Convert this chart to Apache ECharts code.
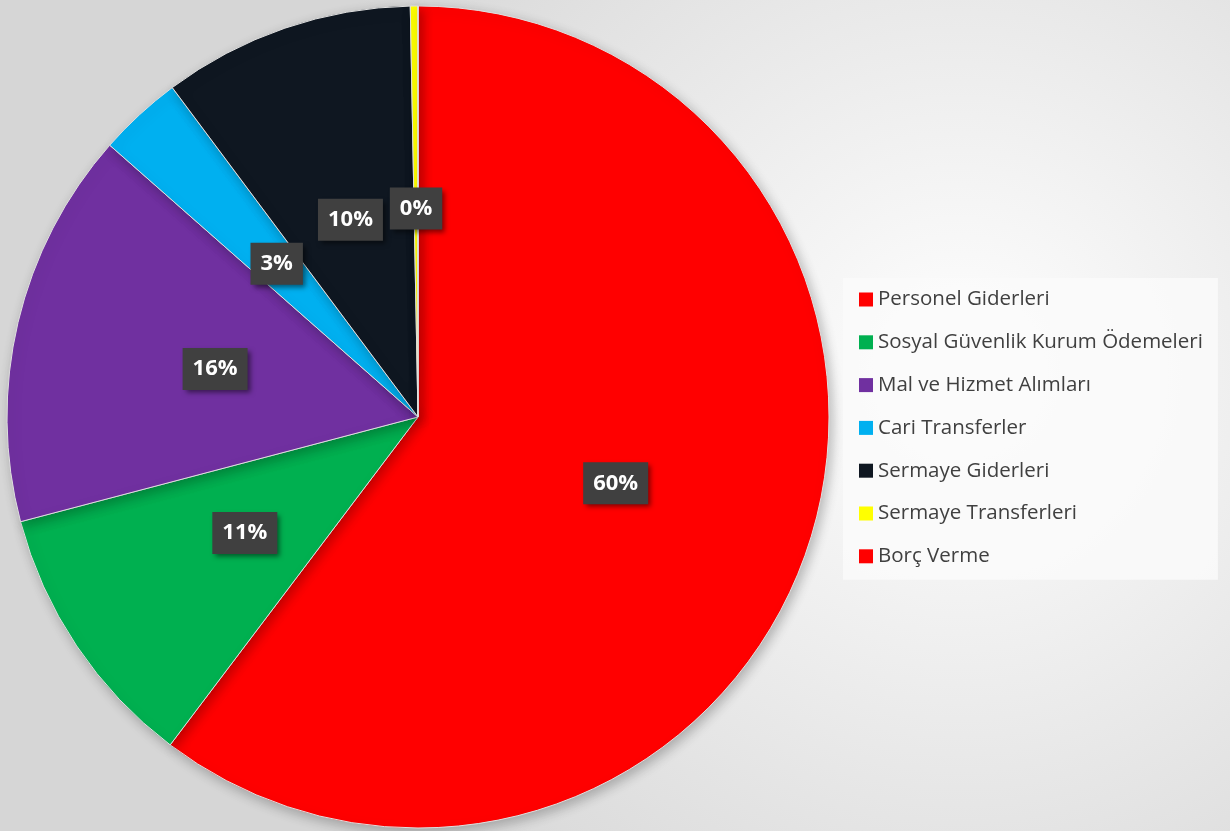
<!DOCTYPE html>
<html>
<head>
<meta charset="utf-8">
<script src="https://cdn.jsdelivr.net/npm/echarts@6/dist/echarts.min.js"></script>
<style>
  html, body { margin: 0; padding: 0; }
  #chart { width: 1230px; height: 831px; }
</style>
</head>
<body>
<div id="chart"></div>
<script>
// kalemler ve payları (%)
var categories = ["Personel Giderleri", "Sosyal Güvenlik Kurum Ödemeleri", "Mal ve Hizmet Alımları",
  "Cari Transferler", "Sermaye Giderleri", "Sermaye Transferleri", "Borç Verme"];
var values = [60.3, 10.6, 15.6, 3.3, 9.9, 0.3, 0];
var colors = ["#ff0000", "#00b050", "#7030a0", "#00b0f0", "#0f1721", "#ffff00", "#ff0000"];

var chartObj = echarts.init(document.getElementById("chart"));

var pieData = categories.map(function (name, i) {
  var item = { name: name, value: values[i], itemStyle: { color: colors[i] } };
  if (values[i] === 0) item.label = { show: false }; // sıfır dilim etiketsiz
  return item;
});

var option = {
  backgroundColor: {
    type: "radial", x: 0.78, y: 0.45, r: 0.85,
    colorStops: [{ offset: 0, color: "#ffffff" }, { offset: 1, color: "#d6d6d6" }]
  },
  animation: false,
  legend: {
    orient: "vertical",
    left: 843,
    top: 278,
    padding: [11, 15, 13, 16],
    backgroundColor: "rgba(250,250,250,0.85)",
    icon: "rect",
    itemWidth: 14,
    itemHeight: 14,
    itemGap: 21.8,
    itemStyle: { borderWidth: 0, shadowBlur: 0 },
    textStyle: { fontFamily: "Open Sans", fontSize: 20.5, color: "#404040" },
    data: categories
  },
  series: [{
    type: "pie",
    center: [418, 417],
    radius: 411,
    startAngle: 90,
    clockwise: true,
    avoidLabelOverlap: false,
    itemStyle: {
      borderColor: "#e0e0e0",
      borderWidth: 1,
      shadowColor: "rgba(0,0,0,0.25)",
      shadowBlur: 12,
      shadowOffsetX: 3,
      shadowOffsetY: 4
    },
    label: {
      show: true,
      position: "inside",
      formatter: function (p) { return Math.round(p.percent) + "%"; },
      fontFamily: "Open Sans",
      fontWeight: "bold",
      fontSize: 22,
      color: "#ffffff",
      backgroundColor: "#404040",
      padding: [11, 10, 9, 10],
      shadowColor: "rgba(0,0,0,0.5)",
      shadowBlur: 5,
      shadowOffsetX: 3,
      shadowOffsetY: 3
    },
    labelLine: { show: false },
    emphasis: { disabled: true },
    data: pieData
  }]
};

chartObj.setOption(option, true);
</script>
</body>
</html>
